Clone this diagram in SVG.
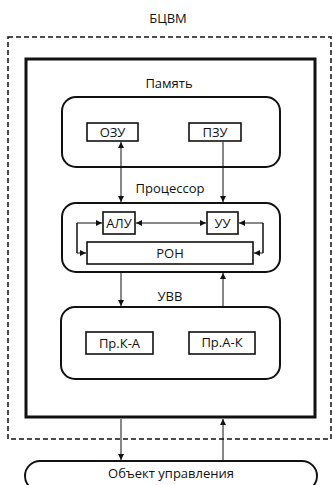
<svg xmlns="http://www.w3.org/2000/svg" width="333" height="485" viewBox="0 0 333 485">
  <defs>
    <marker id="ah" viewBox="0 0 8 8" refX="8" refY="4" markerWidth="6" markerHeight="6" markerUnits="userSpaceOnUse" orient="auto-start-reverse">
      <path d="M0,0 L8,4 L0,8 z" fill="#111"/>
    </marker>
    <style>
      text { font-family: "Open Sans", "Noto Sans", sans-serif; font-size: 13px; fill: #111; text-anchor: middle; }
      .unit { fill: #fff; stroke: #111; stroke-width: 2; }
      .box { fill: #fff; stroke: #111; stroke-width: 1.6; }
      .conn { fill: none; stroke: #111; stroke-width: 1; }
    </style>
  </defs>
  <rect width="333" height="485" fill="#fff"/>

  <!-- on-board computer boundary -->
  <g id="bcvm">
    <text x="168" y="23">БЦВМ</text>
    <rect x="8" y="37" width="323" height="402" fill="none" stroke="#111" stroke-width="1.5" stroke-dasharray="5,3"/>
    <rect x="26" y="59" width="289" height="358" fill="#fff" stroke="#111" stroke-width="3"/>
  </g>

  <!-- memory -->
  <g id="memory">
    <text x="169" y="88">Память</text>
    <rect class="unit" x="62" y="97" width="218" height="70" rx="14"/>
    <g id="ozu">
      <rect class="box" x="87" y="123" width="51" height="18"/>
      <text x="112.5" y="137">ОЗУ</text>
    </g>
    <g id="pzu">
      <rect class="box" x="189" y="123" width="52" height="18"/>
      <text x="215" y="137">ПЗУ</text>
    </g>
  </g>

  <!-- processor -->
  <g id="processor">
    <text x="170" y="193">Процессор</text>
    <rect class="unit" x="62" y="203" width="218" height="69" rx="14"/>
    <g id="alu">
      <rect class="box" x="103" y="212" width="32" height="22"/>
      <text x="119" y="228">АЛУ</text>
    </g>
    <g id="uu">
      <rect class="box" x="207" y="212" width="31" height="22"/>
      <text x="222.5" y="228">УУ</text>
    </g>
    <g id="ron">
      <rect class="box" x="87" y="242" width="166" height="22"/>
      <text x="170" y="258">РОН</text>
    </g>
  </g>

  <!-- input/output -->
  <g id="io">
    <text x="170" y="301">УВВ</text>
    <rect class="unit" x="61" y="307" width="219" height="72" rx="14"/>
    <g id="conv-ka">
      <rect class="box" x="86" y="332" width="67" height="22"/>
      <text x="119.5" y="348">Пр.К-А</text>
    </g>
    <g id="conv-ak">
      <rect class="box" x="189" y="332" width="66" height="22"/>
      <text x="222" y="347">Пр.А-К</text>
    </g>
  </g>

  <!-- controlled object -->
  <g id="object">
    <rect class="unit" x="25" y="461" width="292" height="30" rx="15"/>
    <text x="171" y="478">Объект управления</text>
  </g>

  <!-- connectors -->
  <g id="connectors">
    <path class="conn" d="M121,142 V202" marker-start="url(#ah)" marker-end="url(#ah)"/>
    <path class="conn" d="M223,142 V202" marker-end="url(#ah)"/>
    <path class="conn" d="M136,223 H206" marker-start="url(#ah)" marker-end="url(#ah)"/>
    <path class="conn" d="M77,253 V223 H102" marker-end="url(#ah)"/>
    <path class="conn" d="M77,223 V253 H86" marker-end="url(#ah)"/>
    <path class="conn" d="M263,253 V223 H239" marker-end="url(#ah)"/>
    <path class="conn" d="M263,223 V253 H254" marker-end="url(#ah)"/>
    <path class="conn" d="M121,273 V306" marker-end="url(#ah)"/>
    <path class="conn" d="M223,306 V273" marker-end="url(#ah)"/>
    <path class="conn" d="M121,419 V460" marker-end="url(#ah)"/>
    <path class="conn" d="M223,460 V419" marker-end="url(#ah)"/>
  </g>
</svg>
